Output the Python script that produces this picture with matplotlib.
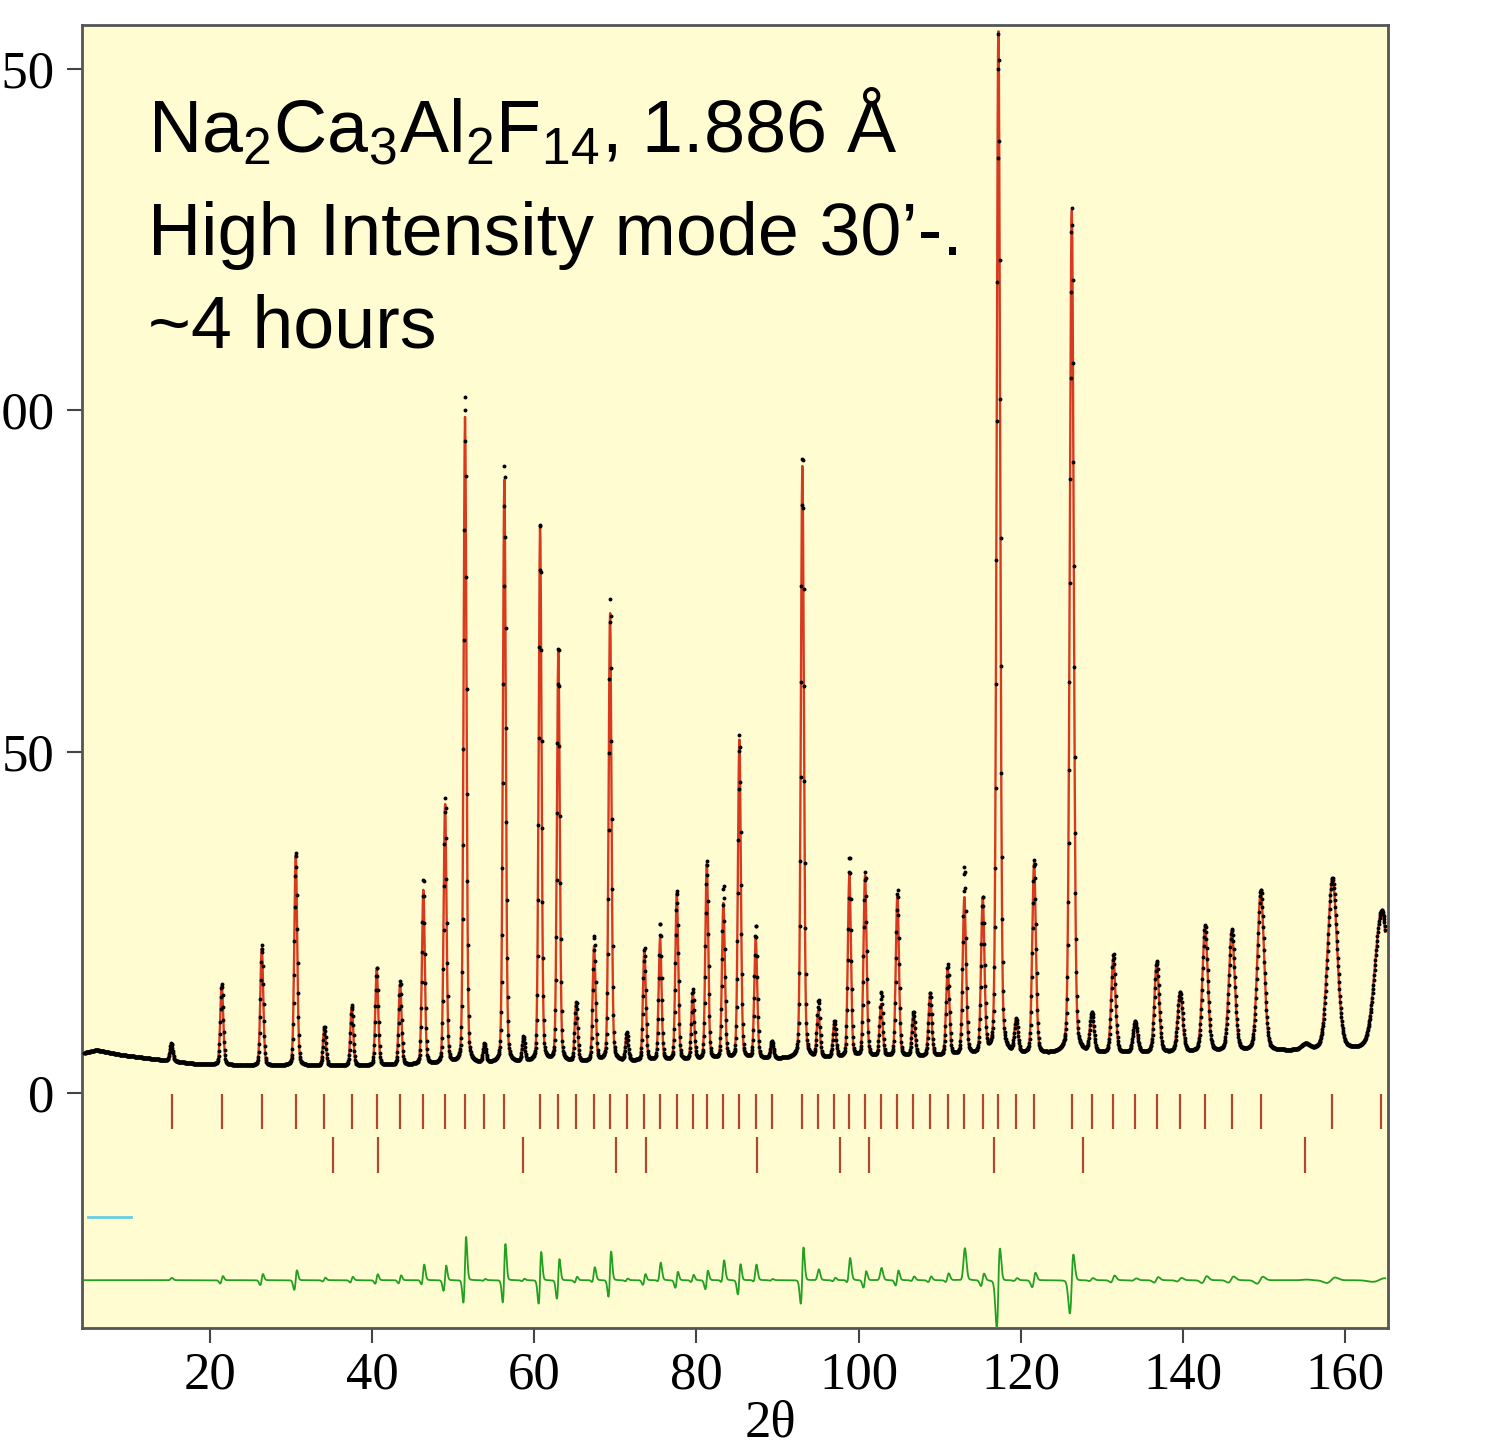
import numpy as np
import matplotlib.pyplot as plt

plt.rcParams['mathtext.fontset'] = 'custom'
plt.rcParams['mathtext.rm'] = 'Liberation Sans'

# observed peaks (2theta, total height incl. background)
peak_pos = [15.2, 21.44, 26.38, 30.57, 34.10, 37.48, 40.56, 43.44, 46.31, 48.99,
            51.45, 53.84, 56.30, 58.65, 60.71, 62.96, 65.15, 67.37, 69.34, 71.40,
            73.57, 75.51, 77.57, 79.54, 81.27, 83.32, 85.29, 87.31, 89.29, 93.06,
            95.03, 97.01, 98.86, 100.79, 102.77, 104.78, 106.75, 108.81, 110.99, 113.04,
            115.31, 117.24, 119.42, 121.64, 126.29, 128.76, 131.42, 134.10, 136.77, 139.65,
            142.73, 146.03, 149.60, 155.11, 158.44, 164.50]
obs_height = [7.3, 16.0, 21.6, 35.3, 9.7, 12.8, 18.4, 16.3, 31.3, 43.0,
              102.2, 7.0, 92.1, 8.0, 83.9, 65.4, 13.2, 22.9, 72.3, 8.7,
              21.2, 24.8, 29.6, 15.0, 33.9, 30.2, 52.3, 24.5, 7.5, 93.7,
              13.4, 10.4, 34.6, 32.2, 14.6, 29.7, 11.8, 14.6, 18.7, 32.9,
              28.3, 155.0, 10.4, 33.9, 129.5, 11.5, 20.2, 10.4, 19.2, 14.7,
              24.5, 23.8, 29.7, 7.0, 31.4, 26.7]
calc_height = [7.0, 15.8, 21.3, 35.0, 9.5, 12.6, 18.0, 16.0, 29.7, 42.2,
               98.9, 6.9, 89.7, 7.9, 82.7, 64.6, 13.0, 21.4, 70.3, 8.6,
               20.9, 22.6, 29.3, 14.5, 33.6, 27.8, 51.7, 22.6, 7.4, 91.9,
               11.9, 10.2, 31.9, 31.8, 12.9, 29.0, 11.4, 14.3, 18.0, 28.5,
               28.0, 155.5, 10.2, 33.6, 129.3, 11.3, 19.8, 10.2, 19.0, 14.5,
               24.2, 23.5, 29.5, 6.9, 31.2, 26.5]

# background anchors
bg_tth = [4.5, 6.0, 9.0, 13.0, 18.0, 25.0, 40.0, 60.0, 90.0, 120.0, 150.0, 165.0]
bg_int = [5.9, 6.3, 5.6, 5.0, 4.3, 4.0, 4.0, 4.4, 5.0, 5.6, 6.1, 6.3]

# reflection markers (phase 1 and phase 2)
refl_1 = [15.28, 21.44, 26.38, 30.57, 34.10, 37.48, 40.56, 43.44, 46.31, 48.99,
          51.45, 53.84, 56.30, 60.71, 62.96, 65.15, 67.37, 69.34, 71.40, 73.57,
          75.51, 77.57, 79.54, 81.27, 83.32, 85.29, 87.31, 89.29, 93.06, 95.03,
          97.01, 98.86, 100.79, 102.77, 104.78, 106.75, 108.81, 110.99, 113.04, 115.31,
          117.24, 119.42, 121.64, 126.29, 128.76, 131.42, 134.10, 136.77, 139.65, 142.73,
          146.03, 149.60, 158.44, 164.44]
refl_2 = [35.21, 40.76, 58.65, 70.04, 73.78, 87.51, 97.71, 101.25, 116.68, 127.65, 155.11]

# instrument width parameters and small zero offset between obs/calc
U, V, W = 0.08, -0.10, 0.20
zero_shift = 0.014


def fwhm(tth):
    t = np.tan(np.radians(tth / 2))
    return np.sqrt(U * t ** 2 + V * t + W)


def profile(x, pos, amp, wfac, shift):
    y = np.zeros_like(x)
    for p, a in zip(pos, amp):
        h = fwhm(p) * wfac
        s = h / 2.3548
        g = np.exp(-0.5 * ((x - p - shift) / s) ** 2)
        l = 1 / (1 + ((x - p - shift) / (h / 2)) ** 2)
        y += a * (0.8 * g + 0.2 * l)
    return y


x = np.arange(4.5, 165.0, 0.05)
bg = np.interp(x, bg_tth, bg_int)
pos = np.array(peak_pos)
bgp = np.interp(pos, bg_tth, bg_int)
yobs = bg + profile(x, pos, np.array(obs_height) - bgp, 0.99, zero_shift)
ycalc = bg + profile(x, pos, np.array(calc_height) - bgp, 1.0, 0.0)
ydiff = yobs - ycalc - 27.4

fig = plt.figure(figsize=(14.85, 14.49), dpi=100)
ax = fig.add_axes([0.0552, 0.0835, 0.8795, 0.8992])
ax.set_facecolor('#fffcd2')

ax.plot(x, ycalc, color='#d83a1e', lw=1.7, zorder=3)
ax.plot(x, yobs, ls='none', marker='o', ms=2.8, mec='none', mfc='black', zorder=4)
ax.plot(x, ydiff, color='#22a022', lw=1.3, zorder=3)
ax.vlines(refl_1, -5.2, -0.1, color='#b0482f', lw=1.6)
ax.vlines(refl_2, -11.7, -6.4, color='#b0482f', lw=1.6)
ax.plot([4.9, 10.3], [-18.1, -18.1], color='#66d0e0', lw=2)

ax.set_xlim(4.2, 165.3)
ax.set_ylim(-34.4, 156.4)
ax.set_xticks([20, 40, 60, 80, 100, 120, 140, 160])
ax.set_yticks([0, 50, 100, 150])
for sp in ax.spines.values():
    sp.set_color('#555555')
    sp.set_linewidth(2)
ax.tick_params(direction='out', length=11, width=1.5, color='#444444',
               labelsize=38, pad=6)
ax.tick_params(axis='y', pad=9)
for lab in ax.get_xticklabels() + ax.get_yticklabels():
    lab.set_fontfamily('Liberation Serif')
ax.set_xlabel('2θ', fontsize=38, fontfamily='Liberation Serif', labelpad=-4)
ax.xaxis.set_label_coords(0.527, -0.055)

title_font = dict(transform=ax.transAxes, fontsize=53, fontfamily='Liberation Sans',
                  va='baseline')
ax.text(0.0505, 0.9025,
        r'Na$_\mathregular{2}$Ca$_\mathregular{3}$Al$_\mathregular{2}$F$_\mathregular{14}$, 1.886 Å',
        **title_font)
ax.text(0.0505, 0.8235, 'High Intensity mode 30’-.', **title_font)
ax.text(0.0505, 0.7529, '~4 hours', **title_font)

fig.savefig('out.png', dpi=100)
